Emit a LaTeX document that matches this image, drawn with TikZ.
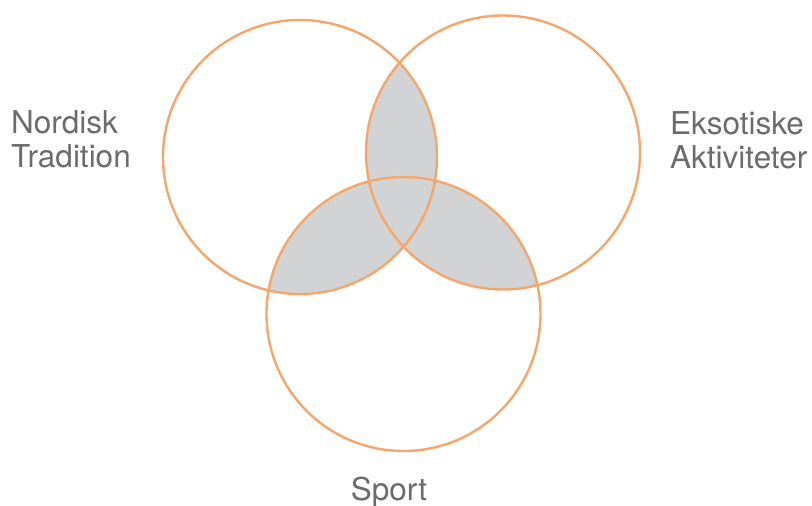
\documentclass[tikz,border=0pt]{standalone}
\usepackage{fontspec}
\setmainfont{TeX Gyre Heros}
\definecolor{ring}{HTML}{F5A66B}
\definecolor{lens}{HTML}{D1D3D4}
\definecolor{label}{HTML}{6B6B6D}
\begin{document}
\begin{tikzpicture}[x=1pt,y=-1pt,
  setring/.style={circle, draw=ring, line width=2.4pt, minimum size=274pt, inner sep=0pt},
  setlabel/.style={text=label, font=\fontsize{31.5}{34}\selectfont, inner sep=0pt, align=left}]
\useasboundingbox (0,0) rectangle (812,506);
\coordinate (cl) at (300,157);
\coordinate (cr) at (503,152.5);
\coordinate (cb) at (403.5,314);
% pairwise overlaps
\begin{scope}\clip (cl) circle (137); \fill[lens] (cr) circle (137); \end{scope}
\begin{scope}\clip (cl) circle (137); \fill[lens] (cb) circle (137); \end{scope}
\begin{scope}\clip (cr) circle (137); \fill[lens] (cb) circle (137); \end{scope}
% rings
\node[setring] (L) at (cl) {};
\node[setring] (R) at (cr) {};
\node[setring] (B) at (cb) {};
% labels
\node[setlabel, anchor=base west] (nl) at (11,167) {Nordisk\\Tradition};
\node[setlabel, anchor=base west] (el) at (670,168) {Eksotiske\\Aktiviteter};
\node[setlabel, anchor=base] (sl) at (389,500) {Sport};
\end{tikzpicture}
\end{document}
